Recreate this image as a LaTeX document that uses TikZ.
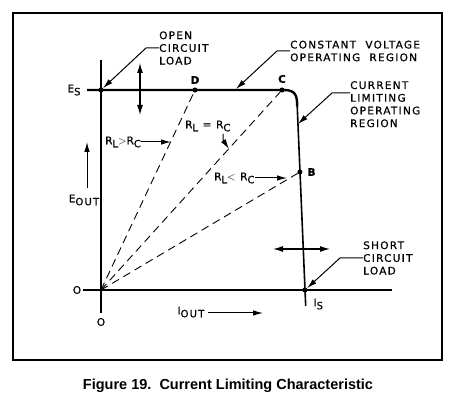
\documentclass[tikz,border=0pt]{standalone}
\usepackage{fontspec}
\setmainfont{DejaVu Sans}
\newfontfamily\lblfont[LetterSpace=12,FakeBold=0.6]{DejaVu Sans}
\newfontfamily\capfont{Liberation Sans}
\usetikzlibrary{arrows.meta}
\newcommand{\lowsub}[1]{\raisebox{-3pt}{\fontsize{10}{10}\selectfont #1}}
\tikzset{
  ptdot/.style={circle,fill,inner sep=1.8pt},
  lbl/.style={align=left,inner sep=0pt},
  axis/.style={line width=1.1pt},
  load/.style={line width=0.9pt,dash pattern=on 8pt off 5pt},
  tip/.style={-{Latex[length=10pt,width=5.5pt]},line width=1pt},
  both/.style={{Latex[length=10pt,width=6pt]}-{Latex[length=10pt,width=6pt]},line width=1.1pt},
}
\begin{document}
\begin{tikzpicture}[x=1pt,y=-1pt,font=\lblfont\fontsize{10.5}{12.7}\selectfont]
  \useasboundingbox (0,0) rectangle (464,403);
  \draw[line width=1.2pt] (13,13) rectangle (442,360);

  % points on the curve
  \path
  (101,90) node[ptdot](es) {}
  (195,90) node[ptdot](d) {}
  (282,90) node[ptdot](c) {}
  (299.9,172) node[ptdot](b) {}
  (305,290) node[ptdot](is) {}
  (101,290) coordinate(o)
  ;

  % axes
  \draw[axis] (101,60) -- (101,313);
  \draw[axis] (83,290) -- (392,290);

  % characteristic
  \draw[line width=2.4pt] (87,90) -- (284,90)
    .. controls (296,90) and (297,96) .. (297.2,106);
  \draw[line width=1.6pt] (297.2,106) -- (305.7,306);

  % load lines
  \draw[load] (o) -- (d);
  \draw[load] (o) -- (c);
  \draw[load] (o) -- (b);

  % axis labels
  \node (eslbl) at (74,90) {E\lowsub{S}};
  \node (zero) at (77,290) {O};
  \node (zerox) at (101,322) {O};
  \node[right] (islbl) at (310,304) {I\lowsub{S}};
  \node (d lbl) at (195,80) {\bfseries D};
  \node (c lbl) at (282,79) {\bfseries C};
  \node[right] (b lbl) at (304,172) {\bfseries B};

  \node (eout) at (84,200) {E\lowsub{OUT}};
  \coordinate (eouttop) at (87,142);
  \draw[tip] (eout.north -| eouttop) ++(0,-3) -- (eouttop);

  \node[anchor=west] (iout) at (174,312) {I\lowsub{OUT}};
  \coordinate (ioutend) at (263,313);
  \draw[tip] (iout.east |- ioutend) -- (ioutend);

  % region labels
  \node[lbl,anchor=west] (ocl) at (159,48) {OPEN\\CIRCUIT\\LOAD};
  \draw[tip] (ocl.west) -- (146,48) -- (es);

  \node[lbl,anchor=west] (cvr) at (290,51) {CONSTANT\ \ VOLTAGE\\OPERATING\ \ REGION};
  \coordinate (cvtip) at (236,89);
  \draw[tip] (cvr.west) -- (277,51) -- (cvtip);

  \node[lbl,anchor=north west] (clr) at (350,81) {CURRENT\\LIMITING\\OPERATING\\REGION};
  \coordinate (clknee) at (332,93);
  \coordinate (cltip) at (298,124);
  \draw[tip] (clr.west |- clknee) -- (clknee) -- (cltip);

  \node[lbl,anchor=west] (scl) at (363,258) {SHORT\\CIRCUIT\\LOAD};
  \draw[tip] (scl.west) -- (340,258) -- (is);

  % resistance labels
  \node[anchor=west,inner sep=0pt] (rgt) at (105,142) {R\lowsub{L}$>$R\lowsub{C}};
  \coordinate (rgttip) at (171,142);
  \draw[tip] (rgt.east) -- (rgttip);

  \node[anchor=west,inner sep=0pt] (req) at (185,126) {R\lowsub{L} = R\lowsub{C}};
  \coordinate (reqtip) at (229,149);
  \draw[tip] (223,134) -- (223,140) -- (reqtip);

  \node[anchor=west,inner sep=0pt] (rlt) at (214,178) {R\lowsub{L}$<$ R\lowsub{C}};
  \coordinate (rlttip) at (287,178);
  \draw[tip] (rlt.east) -- (rlttip);

  % operating point movement
  \draw[both] (140,63) -- (140,115);
  \draw[both] (273,249) -- (330,249);

  \node[font=\capfont\bfseries\fontsize{14.5}{17}\selectfont] (caption) at (228,386)
    {Figure 19.\ \ Current Limiting Characteristic};
\end{tikzpicture}
\end{document}
